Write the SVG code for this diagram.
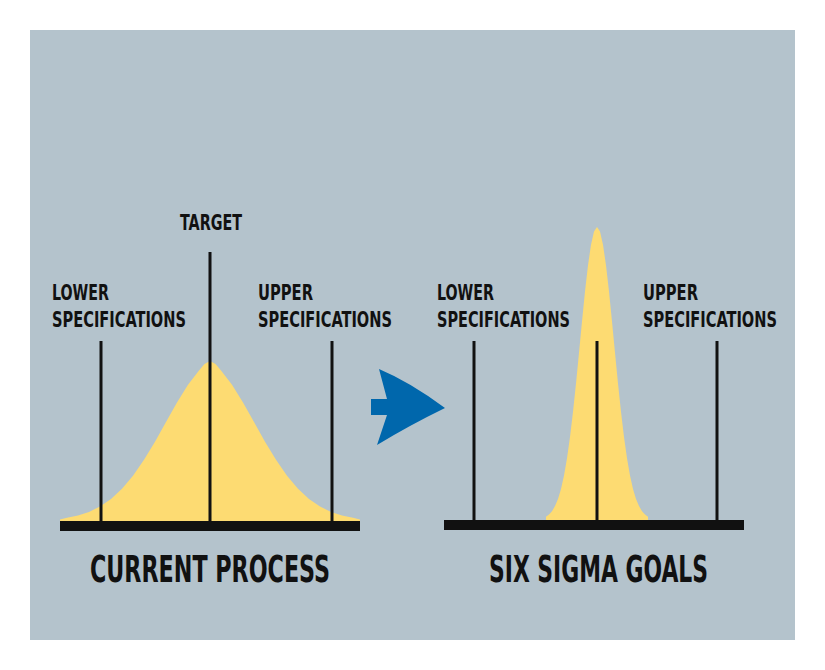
<svg xmlns="http://www.w3.org/2000/svg" width="825" height="670" viewBox="0 0 825 670">
<style>
.t{font-family:"DejaVu Sans Condensed","DejaVu Sans",sans-serif;font-weight:bold;fill:#111;}
.s{font-size:21px;}
.b{font-size:37px;}
.ln{stroke:#111;stroke-width:3;}
.bell{fill:#fddb72;}
</style>
<rect width="825" height="670" fill="#fff"/>
<rect x="30" y="30" width="765" height="610" fill="#b4c3cc"/>
<g id="left-bell">
<path class="bell" d="M60,521 L60,519.5 L67,517.8 L78,515.5 L89,511.9 L100,506.5 L111,498.9 L122,488.7 L133,475.7 L144,459.8 L155,441.7 L166,422.1 L177,402.6 L188,384.8 L199,370.5 L204.5,364 L210,361 L215.5,364 L221,370.5 L232,384.8 L243,402.6 L254,422.1 L265,441.7 L276,459.8 L287,475.7 L298,488.7 L309,498.9 L320,506.5 L331,511.9 L342,515.5 L353,517.8 L360,519.5 L360,521 Z"/>
</g>
<g id="right-bell">
<path class="bell" d="M546,520 L546,516.8 L549,514.6 L552,511.2 L555,506.1 L558,498.9 L561,488.9 L564,475.5 L567,458.2 L570,437 L573,411.8 L576,383.4 L579,352.7 L582,321.5 L585,291.6 L588,265.3 L591,244.7 L594,231.5 L597,227 L600,231.5 L603,244.7 L606,265.3 L609,291.6 L612,321.5 L615,352.7 L618,383.4 L621,411.8 L624,437 L627,458.2 L630,475.5 L633,488.9 L636,498.9 L639,506.1 L642,511.2 L645,514.6 L648,516.8 L648,520 Z"/>
</g>
<g id="connectors">
<line class="ln" x1="101" y1="341" x2="101" y2="521"/>
<line class="ln" x1="210" y1="252" x2="210" y2="521"/>
<line class="ln" x1="332" y1="341" x2="332" y2="521"/>
<line class="ln" x1="474" y1="341" x2="474" y2="520"/>
<line class="ln" x1="597" y1="341" x2="597" y2="520"/>
<line class="ln" x1="717" y1="341" x2="717" y2="520"/>
</g>
<g id="axis-left"><rect x="60" y="521" width="300" height="10" fill="#111"/></g>
<g id="axis-right"><rect x="444" y="520" width="300" height="10" fill="#111"/></g>
<g id="arrow">
<path fill="#0067ac" d="M371,399 L387,399 L379,369 Q410,382 445,408 Q410,425 377,445 L387,415 L371,415 Z"/>
</g>
<g id="labels-left">
<text class="t s" x="180" y="230" textLength="62" lengthAdjust="spacingAndGlyphs">TARGET</text>
<text class="t s" x="52" y="300" textLength="57" lengthAdjust="spacingAndGlyphs">LOWER</text>
<text class="t s" x="52" y="327" textLength="134" lengthAdjust="spacingAndGlyphs">SPECIFICATIONS</text>
<text class="t s" x="258" y="300" textLength="55" lengthAdjust="spacingAndGlyphs">UPPER</text>
<text class="t s" x="258" y="327" textLength="134" lengthAdjust="spacingAndGlyphs">SPECIFICATIONS</text>
<text class="t b" x="90" y="582" textLength="240" lengthAdjust="spacingAndGlyphs">CURRENT PROCESS</text>
</g>
<g id="labels-right">
<text class="t s" x="437" y="300" textLength="57" lengthAdjust="spacingAndGlyphs">LOWER</text>
<text class="t s" x="437" y="327" textLength="133" lengthAdjust="spacingAndGlyphs">SPECIFICATIONS</text>
<text class="t s" x="643" y="300" textLength="55" lengthAdjust="spacingAndGlyphs">UPPER</text>
<text class="t s" x="643" y="327" textLength="134" lengthAdjust="spacingAndGlyphs">SPECIFICATIONS</text>
<text class="t b" x="489" y="582" textLength="219" lengthAdjust="spacingAndGlyphs">SIX SIGMA GOALS</text>
</g>
</svg>
